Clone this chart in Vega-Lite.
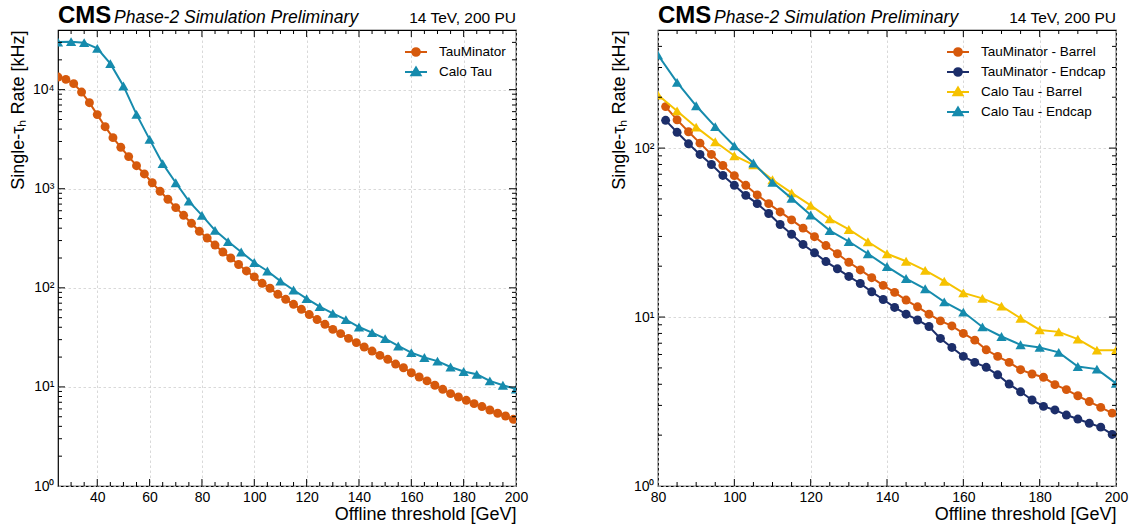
{
  "$schema": "https://vega.github.io/schema/vega-lite/v6.json",
  "background": "white",
  "padding": {"left": 8, "top": 3, "right": 0, "bottom": 0},
  "spacing": 80,
  "config": {
    "font": "Liberation Sans",
    "view": {"stroke": "black", "strokeWidth": 1.2},
    "axis": {
      "domain": false,
      "ticks": false,
      "tickSize": 0,
      "labelFlush": false,
      "labelFont": "Liberation Sans",
      "labelFontSize": 14,
      "labelColor": "black",
      "titleFont": "Liberation Sans",
      "titleFontSize": 18,
      "titleFontWeight": "normal",
      "titleColor": "black",
      "gridColor": "#cfcfcf",
      "gridDash": [2.5, 2.5],
      "gridWidth": 0.8
    },
    "tick": {"opacity": 1}
  },
  "datasets": {
    "left": [
      {"s": "TauMinator", "x": 25, "y": 13400}, {"s": "TauMinator", "x": 28, "y": 12700}, {"s": "TauMinator", "x": 31, "y": 11500}, {"s": "TauMinator", "x": 34, "y": 9460}, {"s": "TauMinator", "x": 37, "y": 7390}, {"s": "TauMinator", "x": 40, "y": 5600}, {"s": "TauMinator", "x": 43, "y": 4230}, {"s": "TauMinator", "x": 46, "y": 3280}, {"s": "TauMinator", "x": 49, "y": 2620}, {"s": "TauMinator", "x": 52, "y": 2110}, {"s": "TauMinator", "x": 55, "y": 1710}, {"s": "TauMinator", "x": 58, "y": 1410}, {"s": "TauMinator", "x": 61, "y": 1150}, {"s": "TauMinator", "x": 64, "y": 942}, {"s": "TauMinator", "x": 67, "y": 782}, {"s": "TauMinator", "x": 70, "y": 645}, {"s": "TauMinator", "x": 73, "y": 539}, {"s": "TauMinator", "x": 76, "y": 448}, {"s": "TauMinator", "x": 79, "y": 372}, {"s": "TauMinator", "x": 82, "y": 318}, {"s": "TauMinator", "x": 85, "y": 270}, {"s": "TauMinator", "x": 88, "y": 230}, {"s": "TauMinator", "x": 91, "y": 200}, {"s": "TauMinator", "x": 94, "y": 172}, {"s": "TauMinator", "x": 97, "y": 148}, {"s": "TauMinator", "x": 100, "y": 129}, {"s": "TauMinator", "x": 103, "y": 111}, {"s": "TauMinator", "x": 106, "y": 99}, {"s": "TauMinator", "x": 109, "y": 86}, {"s": "TauMinator", "x": 112, "y": 76.6}, {"s": "TauMinator", "x": 115, "y": 68.2}, {"s": "TauMinator", "x": 118, "y": 60.7}, {"s": "TauMinator", "x": 121, "y": 53.7}, {"s": "TauMinator", "x": 124, "y": 47.8}, {"s": "TauMinator", "x": 127, "y": 42.8}, {"s": "TauMinator", "x": 130, "y": 38.1}, {"s": "TauMinator", "x": 133, "y": 34.5}, {"s": "TauMinator", "x": 136, "y": 30.9}, {"s": "TauMinator", "x": 139, "y": 28}, {"s": "TauMinator", "x": 142, "y": 25.3}, {"s": "TauMinator", "x": 145, "y": 23}, {"s": "TauMinator", "x": 148, "y": 20.8}, {"s": "TauMinator", "x": 151, "y": 19}, {"s": "TauMinator", "x": 154, "y": 17}, {"s": "TauMinator", "x": 157, "y": 15.6}, {"s": "TauMinator", "x": 160, "y": 13.9}, {"s": "TauMinator", "x": 163, "y": 12.6}, {"s": "TauMinator", "x": 166, "y": 11.5}, {"s": "TauMinator", "x": 169, "y": 10.4}, {"s": "TauMinator", "x": 172, "y": 9.46}, {"s": "TauMinator", "x": 175, "y": 8.56}, {"s": "TauMinator", "x": 178, "y": 7.91}, {"s": "TauMinator", "x": 181, "y": 7.32}, {"s": "TauMinator", "x": 184, "y": 6.78}, {"s": "TauMinator", "x": 187, "y": 6.33}, {"s": "TauMinator", "x": 190, "y": 5.85}, {"s": "TauMinator", "x": 193, "y": 5.42}, {"s": "TauMinator", "x": 196, "y": 5.09}, {"s": "TauMinator", "x": 199, "y": 4.71},
      {"s": "Calo Tau", "x": 25, "y": 30200}, {"s": "Calo Tau", "x": 30, "y": 30500}, {"s": "Calo Tau", "x": 35, "y": 29800}, {"s": "Calo Tau", "x": 40, "y": 26100}, {"s": "Calo Tau", "x": 45, "y": 18300}, {"s": "Calo Tau", "x": 50, "y": 10900}, {"s": "Calo Tau", "x": 55, "y": 5630}, {"s": "Calo Tau", "x": 60, "y": 3150}, {"s": "Calo Tau", "x": 65, "y": 1790}, {"s": "Calo Tau", "x": 70, "y": 1150}, {"s": "Calo Tau", "x": 75, "y": 751}, {"s": "Calo Tau", "x": 80, "y": 539}, {"s": "Calo Tau", "x": 85, "y": 380}, {"s": "Calo Tau", "x": 90, "y": 293}, {"s": "Calo Tau", "x": 95, "y": 230}, {"s": "Calo Tau", "x": 100, "y": 180}, {"s": "Calo Tau", "x": 105, "y": 148}, {"s": "Calo Tau", "x": 110, "y": 117}, {"s": "Calo Tau", "x": 115, "y": 95}, {"s": "Calo Tau", "x": 120, "y": 77.8}, {"s": "Calo Tau", "x": 125, "y": 64.6}, {"s": "Calo Tau", "x": 130, "y": 55.3}, {"s": "Calo Tau", "x": 135, "y": 47.8}, {"s": "Calo Tau", "x": 140, "y": 40.2}, {"s": "Calo Tau", "x": 145, "y": 35.3}, {"s": "Calo Tau", "x": 150, "y": 30.7}, {"s": "Calo Tau", "x": 155, "y": 25.9}, {"s": "Calo Tau", "x": 160, "y": 22.2}, {"s": "Calo Tau", "x": 165, "y": 19.8}, {"s": "Calo Tau", "x": 170, "y": 18.2}, {"s": "Calo Tau", "x": 175, "y": 15.9}, {"s": "Calo Tau", "x": 180, "y": 14.3}, {"s": "Calo Tau", "x": 185, "y": 13.4}, {"s": "Calo Tau", "x": 190, "y": 11.5}, {"s": "Calo Tau", "x": 195, "y": 10.4}, {"s": "Calo Tau", "x": 200, "y": 9.5}
    ],
    "right": [
      {"s": "TauMinator - Barrel", "x": 82, "y": 176}, {"s": "TauMinator - Barrel", "x": 85, "y": 147}, {"s": "TauMinator - Barrel", "x": 88, "y": 125}, {"s": "TauMinator - Barrel", "x": 91, "y": 107}, {"s": "TauMinator - Barrel", "x": 94, "y": 91.7}, {"s": "TauMinator - Barrel", "x": 97, "y": 78.9}, {"s": "TauMinator - Barrel", "x": 100, "y": 68.7}, {"s": "TauMinator - Barrel", "x": 103, "y": 60.2}, {"s": "TauMinator - Barrel", "x": 106, "y": 52.8}, {"s": "TauMinator - Barrel", "x": 109, "y": 46.9}, {"s": "TauMinator - Barrel", "x": 112, "y": 41.9}, {"s": "TauMinator - Barrel", "x": 115, "y": 37.6}, {"s": "TauMinator - Barrel", "x": 118, "y": 33.6}, {"s": "TauMinator - Barrel", "x": 121, "y": 29.9}, {"s": "TauMinator - Barrel", "x": 124, "y": 26.5}, {"s": "TauMinator - Barrel", "x": 127, "y": 23.7}, {"s": "TauMinator - Barrel", "x": 130, "y": 21.1}, {"s": "TauMinator - Barrel", "x": 133, "y": 19}, {"s": "TauMinator - Barrel", "x": 136, "y": 17.1}, {"s": "TauMinator - Barrel", "x": 139, "y": 15.4}, {"s": "TauMinator - Barrel", "x": 142, "y": 14}, {"s": "TauMinator - Barrel", "x": 145, "y": 12.6}, {"s": "TauMinator - Barrel", "x": 148, "y": 11.5}, {"s": "TauMinator - Barrel", "x": 151, "y": 10.4}, {"s": "TauMinator - Barrel", "x": 154, "y": 9.49}, {"s": "TauMinator - Barrel", "x": 157, "y": 8.86}, {"s": "TauMinator - Barrel", "x": 160, "y": 8}, {"s": "TauMinator - Barrel", "x": 163, "y": 7.3}, {"s": "TauMinator - Barrel", "x": 166, "y": 6.4}, {"s": "TauMinator - Barrel", "x": 169, "y": 5.85}, {"s": "TauMinator - Barrel", "x": 172, "y": 5.39}, {"s": "TauMinator - Barrel", "x": 175, "y": 4.88}, {"s": "TauMinator - Barrel", "x": 178, "y": 4.6}, {"s": "TauMinator - Barrel", "x": 181, "y": 4.4}, {"s": "TauMinator - Barrel", "x": 184, "y": 3.98}, {"s": "TauMinator - Barrel", "x": 187, "y": 3.72}, {"s": "TauMinator - Barrel", "x": 190, "y": 3.42}, {"s": "TauMinator - Barrel", "x": 193, "y": 3.16}, {"s": "TauMinator - Barrel", "x": 196, "y": 2.92}, {"s": "TauMinator - Barrel", "x": 199, "y": 2.7},
      {"s": "TauMinator - Endcap", "x": 82, "y": 146}, {"s": "TauMinator - Endcap", "x": 85, "y": 124}, {"s": "TauMinator - Endcap", "x": 88, "y": 106}, {"s": "TauMinator - Endcap", "x": 91, "y": 91.7}, {"s": "TauMinator - Endcap", "x": 94, "y": 80}, {"s": "TauMinator - Endcap", "x": 97, "y": 68.9}, {"s": "TauMinator - Endcap", "x": 100, "y": 60.2}, {"s": "TauMinator - Endcap", "x": 103, "y": 52.5}, {"s": "TauMinator - Endcap", "x": 106, "y": 46.9}, {"s": "TauMinator - Endcap", "x": 109, "y": 41}, {"s": "TauMinator - Endcap", "x": 112, "y": 35.3}, {"s": "TauMinator - Endcap", "x": 115, "y": 30.9}, {"s": "TauMinator - Endcap", "x": 118, "y": 26.9}, {"s": "TauMinator - Endcap", "x": 121, "y": 24}, {"s": "TauMinator - Endcap", "x": 124, "y": 21.3}, {"s": "TauMinator - Endcap", "x": 127, "y": 19.3}, {"s": "TauMinator - Endcap", "x": 130, "y": 17.4}, {"s": "TauMinator - Endcap", "x": 133, "y": 15.8}, {"s": "TauMinator - Endcap", "x": 136, "y": 14.1}, {"s": "TauMinator - Endcap", "x": 139, "y": 12.7}, {"s": "TauMinator - Endcap", "x": 142, "y": 11.4}, {"s": "TauMinator - Endcap", "x": 145, "y": 10.4}, {"s": "TauMinator - Endcap", "x": 148, "y": 9.61}, {"s": "TauMinator - Endcap", "x": 151, "y": 8.79}, {"s": "TauMinator - Endcap", "x": 154, "y": 7.47}, {"s": "TauMinator - Endcap", "x": 157, "y": 6.61}, {"s": "TauMinator - Endcap", "x": 160, "y": 5.85}, {"s": "TauMinator - Endcap", "x": 163, "y": 5.39}, {"s": "TauMinator - Endcap", "x": 166, "y": 5.04}, {"s": "TauMinator - Endcap", "x": 169, "y": 4.55}, {"s": "TauMinator - Endcap", "x": 172, "y": 4.01}, {"s": "TauMinator - Endcap", "x": 175, "y": 3.61}, {"s": "TauMinator - Endcap", "x": 178, "y": 3.23}, {"s": "TauMinator - Endcap", "x": 181, "y": 2.96}, {"s": "TauMinator - Endcap", "x": 184, "y": 2.82}, {"s": "TauMinator - Endcap", "x": 187, "y": 2.63}, {"s": "TauMinator - Endcap", "x": 190, "y": 2.49}, {"s": "TauMinator - Endcap", "x": 193, "y": 2.35}, {"s": "TauMinator - Endcap", "x": 196, "y": 2.23}, {"s": "TauMinator - Endcap", "x": 199, "y": 2.02},
      {"s": "Calo Tau - Barrel", "x": 80, "y": 206}, {"s": "Calo Tau - Barrel", "x": 85, "y": 166}, {"s": "Calo Tau - Barrel", "x": 90, "y": 133}, {"s": "Calo Tau - Barrel", "x": 95, "y": 109}, {"s": "Calo Tau - Barrel", "x": 100, "y": 90.1}, {"s": "Calo Tau - Barrel", "x": 105, "y": 79.7}, {"s": "Calo Tau - Barrel", "x": 110, "y": 65}, {"s": "Calo Tau - Barrel", "x": 115, "y": 54.3}, {"s": "Calo Tau - Barrel", "x": 120, "y": 45.8}, {"s": "Calo Tau - Barrel", "x": 125, "y": 38.1}, {"s": "Calo Tau - Barrel", "x": 130, "y": 33}, {"s": "Calo Tau - Barrel", "x": 135, "y": 27.9}, {"s": "Calo Tau - Barrel", "x": 140, "y": 23.7}, {"s": "Calo Tau - Barrel", "x": 145, "y": 21.4}, {"s": "Calo Tau - Barrel", "x": 150, "y": 18.9}, {"s": "Calo Tau - Barrel", "x": 155, "y": 16.3}, {"s": "Calo Tau - Barrel", "x": 160, "y": 13.9}, {"s": "Calo Tau - Barrel", "x": 165, "y": 12.9}, {"s": "Calo Tau - Barrel", "x": 170, "y": 11.6}, {"s": "Calo Tau - Barrel", "x": 175, "y": 9.84}, {"s": "Calo Tau - Barrel", "x": 180, "y": 8.39}, {"s": "Calo Tau - Barrel", "x": 185, "y": 8.17}, {"s": "Calo Tau - Barrel", "x": 190, "y": 7.4}, {"s": "Calo Tau - Barrel", "x": 195, "y": 6.37}, {"s": "Calo Tau - Barrel", "x": 200, "y": 6.37},
      {"s": "Calo Tau - Endcap", "x": 80, "y": 355}, {"s": "Calo Tau - Endcap", "x": 85, "y": 245}, {"s": "Calo Tau - Endcap", "x": 90, "y": 178}, {"s": "Calo Tau - Endcap", "x": 95, "y": 134}, {"s": "Calo Tau - Endcap", "x": 100, "y": 103}, {"s": "Calo Tau - Endcap", "x": 105, "y": 81.6}, {"s": "Calo Tau - Endcap", "x": 110, "y": 62.7}, {"s": "Calo Tau - Endcap", "x": 115, "y": 50.4}, {"s": "Calo Tau - Endcap", "x": 120, "y": 40.2}, {"s": "Calo Tau - Endcap", "x": 125, "y": 32.5}, {"s": "Calo Tau - Endcap", "x": 130, "y": 28}, {"s": "Calo Tau - Endcap", "x": 135, "y": 23.7}, {"s": "Calo Tau - Endcap", "x": 140, "y": 19.9}, {"s": "Calo Tau - Endcap", "x": 145, "y": 16.9}, {"s": "Calo Tau - Endcap", "x": 150, "y": 14.7}, {"s": "Calo Tau - Endcap", "x": 155, "y": 12.3}, {"s": "Calo Tau - Endcap", "x": 160, "y": 10.7}, {"s": "Calo Tau - Endcap", "x": 165, "y": 8.74}, {"s": "Calo Tau - Endcap", "x": 170, "y": 7.67}, {"s": "Calo Tau - Endcap", "x": 175, "y": 6.85}, {"s": "Calo Tau - Endcap", "x": 180, "y": 6.61}, {"s": "Calo Tau - Endcap", "x": 185, "y": 6.18}, {"s": "Calo Tau - Endcap", "x": 190, "y": 5.1}, {"s": "Calo Tau - Endcap", "x": 195, "y": 4.92}, {"s": "Calo Tau - Endcap", "x": 200, "y": 4.05}
    ],
    "ticksLx": [
      {"v": 30, "k": "minor"}, {"v": 35, "k": "minor"}, {"v": 40, "k": "major"}, {"v": 45, "k": "minor"}, {"v": 50, "k": "minor"}, {"v": 55, "k": "minor"}, {"v": 60, "k": "major"}, {"v": 65, "k": "minor"}, {"v": 70, "k": "minor"}, {"v": 75, "k": "minor"}, {"v": 80, "k": "major"}, {"v": 85, "k": "minor"}, {"v": 90, "k": "minor"}, {"v": 95, "k": "minor"}, {"v": 100, "k": "major"}, {"v": 105, "k": "minor"}, {"v": 110, "k": "minor"}, {"v": 115, "k": "minor"}, {"v": 120, "k": "major"}, {"v": 125, "k": "minor"}, {"v": 130, "k": "minor"}, {"v": 135, "k": "minor"}, {"v": 140, "k": "major"}, {"v": 145, "k": "minor"}, {"v": 150, "k": "minor"}, {"v": 155, "k": "minor"}, {"v": 160, "k": "major"}, {"v": 165, "k": "minor"}, {"v": 170, "k": "minor"}, {"v": 175, "k": "minor"}, {"v": 180, "k": "major"}, {"v": 185, "k": "minor"}, {"v": 190, "k": "minor"}, {"v": 195, "k": "minor"}
    ],
    "ticksLy": [
      {"v": 2, "k": "minor"}, {"v": 3, "k": "minor"}, {"v": 4, "k": "minor"}, {"v": 5, "k": "minor"}, {"v": 6, "k": "minor"}, {"v": 7, "k": "minor"}, {"v": 8, "k": "minor"}, {"v": 9, "k": "minor"}, {"v": 10, "k": "major"},
      {"v": 20, "k": "minor"}, {"v": 30, "k": "minor"}, {"v": 40, "k": "minor"}, {"v": 50, "k": "minor"}, {"v": 60, "k": "minor"}, {"v": 70, "k": "minor"}, {"v": 80, "k": "minor"}, {"v": 90, "k": "minor"}, {"v": 100, "k": "major"},
      {"v": 200, "k": "minor"}, {"v": 300, "k": "minor"}, {"v": 400, "k": "minor"}, {"v": 500, "k": "minor"}, {"v": 600, "k": "minor"}, {"v": 700, "k": "minor"}, {"v": 800, "k": "minor"}, {"v": 900, "k": "minor"}, {"v": 1000, "k": "major"},
      {"v": 2000, "k": "minor"}, {"v": 3000, "k": "minor"}, {"v": 4000, "k": "minor"}, {"v": 5000, "k": "minor"}, {"v": 6000, "k": "minor"}, {"v": 7000, "k": "minor"}, {"v": 8000, "k": "minor"}, {"v": 9000, "k": "minor"}, {"v": 10000, "k": "major"},
      {"v": 20000, "k": "minor"}, {"v": 30000, "k": "minor"}
    ],
    "ticksRx": [
      {"v": 85, "k": "minor"}, {"v": 90, "k": "minor"}, {"v": 95, "k": "minor"}, {"v": 100, "k": "major"}, {"v": 105, "k": "minor"}, {"v": 110, "k": "minor"}, {"v": 115, "k": "minor"}, {"v": 120, "k": "major"}, {"v": 125, "k": "minor"}, {"v": 130, "k": "minor"}, {"v": 135, "k": "minor"}, {"v": 140, "k": "major"}, {"v": 145, "k": "minor"}, {"v": 150, "k": "minor"}, {"v": 155, "k": "minor"}, {"v": 160, "k": "major"}, {"v": 165, "k": "minor"}, {"v": 170, "k": "minor"}, {"v": 175, "k": "minor"}, {"v": 180, "k": "major"}, {"v": 185, "k": "minor"}, {"v": 190, "k": "minor"}, {"v": 195, "k": "minor"}
    ],
    "ticksRy": [
      {"v": 2, "k": "minor"}, {"v": 3, "k": "minor"}, {"v": 4, "k": "minor"}, {"v": 5, "k": "minor"}, {"v": 6, "k": "minor"}, {"v": 7, "k": "minor"}, {"v": 8, "k": "minor"}, {"v": 9, "k": "minor"}, {"v": 10, "k": "major"},
      {"v": 20, "k": "minor"}, {"v": 30, "k": "minor"}, {"v": 40, "k": "minor"}, {"v": 50, "k": "minor"}, {"v": 60, "k": "minor"}, {"v": 70, "k": "minor"}, {"v": 80, "k": "minor"}, {"v": 90, "k": "minor"}, {"v": 100, "k": "major"},
      {"v": 200, "k": "minor"}, {"v": 300, "k": "minor"}, {"v": 400, "k": "minor"}
    ]
  },
  "hconcat": [
    {
      "width": 458,
      "height": 456,
      "layer": [
        {
          "data": {"name": "left"},
          "transform": [{"filter": "datum.s == 'TauMinator'"}],
          "mark": {"type": "line", "strokeWidth": 2, "clip": true, "color": "#d6590c"},
          "encoding": {
            "x": {"field": "x", "type": "quantitative", "scale": {"domain": [25, 200], "nice": false, "zero": false},
              "axis": {"orient": "bottom", "values": [40, 60, 80, 100, 120, 140, 160, 180, 200], "grid": true, "labelPadding": 4, "title": "Offline threshold [GeV]", "titleAnchor": "end", "titlePadding": 1}},
            "y": {"field": "y", "type": "quantitative", "scale": {"type": "log", "domain": [1, 40000], "nice": false},
              "axis": {"orient": "left", "values": [1, 10, 100, 1000, 10000], "grid": true, "labelPadding": 4,
                "labelExpr": "datum.value == 1 ? '10⁰' : datum.value == 10 ? '10¹' : datum.value == 100 ? '10²' : datum.value == 1000 ? '10³' : '10⁴'",
                "title": "Single-τₕ Rate [kHz]", "titleAnchor": "end", "titlePadding": 5}}
          }
        },
        {
          "data": {"name": "left"},
          "transform": [{"filter": "datum.s == 'TauMinator'"}],
          "mark": {"type": "point", "shape": "circle", "size": 80, "filled": true, "opacity": 1, "clip": true, "color": "#d6590c"},
          "encoding": {
            "x": {"field": "x", "type": "quantitative", "axis": null},
            "y": {"field": "y", "type": "quantitative", "axis": null}
          }
        },
        {
          "data": {"name": "left"},
          "transform": [{"filter": "datum.s == 'Calo Tau'"}],
          "mark": {"type": "line", "strokeWidth": 2, "clip": true, "color": "#168bad"},
          "encoding": {
            "x": {"field": "x", "type": "quantitative", "axis": null},
            "y": {"field": "y", "type": "quantitative", "axis": null}
          }
        },
        {
          "data": {"name": "left"},
          "transform": [{"filter": "datum.s == 'Calo Tau'"}],
          "mark": {"type": "point", "shape": "triangle-up", "size": 105, "filled": true, "opacity": 1, "clip": true, "color": "#168bad"},
          "encoding": {
            "x": {"field": "x", "type": "quantitative", "axis": null},
            "y": {"field": "y", "type": "quantitative", "axis": null}
          }
        },
        {
          "data": {"name": "left"},
          "mark": {"type": "point", "filled": true, "opacity": 0, "strokeWidth": 2, "clip": true},
          "encoding": {
            "x": {"field": "x", "type": "quantitative", "axis": null},
            "y": {"field": "y", "type": "quantitative", "axis": null},
            "fill": {"field": "s", "type": "nominal", "scale": {"domain": ["TauMinator", "Calo Tau"], "range": ["#d6590c", "#168bad"]},
              "legend": {"title": null, "orient": "top-right", "offset": 10, "padding": 0, "labelFont": "Liberation Sans", "labelFontSize": 13.5, "labelColor": "black", "symbolSize": 484, "symbolStrokeWidth": 2, "symbolOpacity": 1, "rowPadding": -2, "labelOffset": 11}},
            "stroke": {"field": "s", "type": "nominal", "scale": {"domain": ["TauMinator", "Calo Tau"], "range": ["#d6590c", "#168bad"]},
              "legend": {"title": null, "orient": "top-right", "offset": 10, "padding": 0, "labelFont": "Liberation Sans", "labelFontSize": 13.5, "labelColor": "black", "symbolSize": 484, "symbolStrokeWidth": 2, "symbolOpacity": 1, "rowPadding": -2, "labelOffset": 11}},
            "shape": {"field": "s", "type": "nominal", "scale": {"domain": ["TauMinator", "Calo Tau"], "range": ["M-1,0H1M0.35,0A0.35,0.35,0,1,1,-0.35,0A0.35,0.35,0,1,1,0.35,0Z", "M-1,0H1M0,-0.42L0.42,0.3L-0.42,0.3Z"]},
              "legend": {"title": null, "orient": "top-right", "offset": 10, "padding": 0, "labelFont": "Liberation Sans", "labelFontSize": 13.5, "labelColor": "black", "symbolSize": 484, "symbolStrokeWidth": 2, "symbolOpacity": 1, "rowPadding": -2, "labelOffset": 11}}
          }
        },
        {
          "data": {"name": "ticksLx"},
          "mark": {"type": "tick", "orient": "vertical", "thickness": 1, "color": "black", "opacity": 1, "clip": true},
          "encoding": {
            "x": {"field": "v", "type": "quantitative", "axis": null},
            "y": {"datum": 1, "type": "quantitative", "axis": null},
            "size": {"field": "k", "type": "nominal", "scale": {"domain": ["major", "minor"], "range": [14, 8]}, "legend": null}
          }
        },
        {
          "data": {"name": "ticksLx"},
          "mark": {"type": "tick", "orient": "vertical", "thickness": 1, "color": "black", "opacity": 1, "clip": true},
          "encoding": {
            "x": {"field": "v", "type": "quantitative", "axis": null},
            "y": {"datum": 40000, "type": "quantitative", "axis": null},
            "size": {"field": "k", "type": "nominal", "legend": null}
          }
        },
        {
          "data": {"name": "ticksLy"},
          "mark": {"type": "tick", "orient": "horizontal", "thickness": 1, "color": "black", "opacity": 1, "clip": true},
          "encoding": {
            "y": {"field": "v", "type": "quantitative", "axis": null},
            "x": {"datum": 25, "type": "quantitative", "axis": null},
            "size": {"field": "k", "type": "nominal", "legend": null}
          }
        },
        {
          "data": {"name": "ticksLy"},
          "mark": {"type": "tick", "orient": "horizontal", "thickness": 1, "color": "black", "opacity": 1, "clip": true},
          "encoding": {
            "y": {"field": "v", "type": "quantitative", "axis": null},
            "x": {"datum": 200, "type": "quantitative", "axis": null},
            "size": {"field": "k", "type": "nominal", "legend": null}
          }
        },
        {
          "data": {"values": [{}]},
          "mark": {"type": "text", "text": "CMS", "align": "left", "baseline": "alphabetic", "dy": -7, "fontSize": 24, "fontWeight": "bold", "font": "Liberation Sans", "color": "black"},
          "encoding": {
            "x": {"datum": 25, "type": "quantitative", "axis": null},
            "y": {"datum": 40000, "type": "quantitative", "axis": null}
          }
        },
        {
          "data": {"values": [{}]},
          "mark": {"type": "text", "text": "Phase-2 Simulation Preliminary", "align": "left", "baseline": "alphabetic", "dx": 56, "dy": -7, "fontSize": 17.5, "fontStyle": "italic", "font": "Liberation Sans", "color": "black"},
          "encoding": {
            "x": {"datum": 25, "type": "quantitative", "axis": null},
            "y": {"datum": 40000, "type": "quantitative", "axis": null}
          }
        },
        {
          "data": {"values": [{}]},
          "mark": {"type": "text", "text": "14 TeV, 200 PU", "align": "right", "baseline": "alphabetic", "dy": -7, "fontSize": 15.5, "font": "Liberation Sans", "color": "black"},
          "encoding": {
            "x": {"datum": 200, "type": "quantitative", "axis": null},
            "y": {"datum": 40000, "type": "quantitative", "axis": null}
          }
        }
      ],
      "resolve": {"axis": {"x": "independent", "y": "independent"}}
    },
    {
      "width": 458,
      "height": 456,
      "layer": [
        {
          "data": {"name": "right"},
          "transform": [{"filter": "datum.s == 'TauMinator - Barrel'"}],
          "mark": {"type": "line", "strokeWidth": 2, "clip": true, "color": "#d6590c"},
          "encoding": {
            "x": {"field": "x", "type": "quantitative", "scale": {"domain": [80, 200], "nice": false, "zero": false},
              "axis": {"orient": "bottom", "values": [80, 100, 120, 140, 160, 180, 200], "grid": true, "labelPadding": 4, "title": "Offline threshold [GeV]", "titleAnchor": "end", "titlePadding": 1}},
            "y": {"field": "y", "type": "quantitative", "scale": {"type": "log", "domain": [1, 500], "nice": false},
              "axis": {"orient": "left", "values": [1, 10, 100], "grid": true, "labelPadding": 4,
                "labelExpr": "datum.value == 1 ? '10⁰' : datum.value == 10 ? '10¹' : '10²'",
                "title": "Single-τₕ Rate [kHz]", "titleAnchor": "end", "titlePadding": 5}}
          }
        },
        {
          "data": {"name": "right"},
          "transform": [{"filter": "datum.s == 'TauMinator - Barrel'"}],
          "mark": {"type": "point", "shape": "circle", "size": 80, "filled": true, "opacity": 1, "clip": true, "color": "#d6590c"},
          "encoding": {
            "x": {"field": "x", "type": "quantitative", "axis": null},
            "y": {"field": "y", "type": "quantitative", "axis": null}
          }
        },
        {
          "data": {"name": "right"},
          "transform": [{"filter": "datum.s == 'TauMinator - Endcap'"}],
          "mark": {"type": "line", "strokeWidth": 2, "clip": true, "color": "#1c2e6a"},
          "encoding": {
            "x": {"field": "x", "type": "quantitative", "axis": null},
            "y": {"field": "y", "type": "quantitative", "axis": null}
          }
        },
        {
          "data": {"name": "right"},
          "transform": [{"filter": "datum.s == 'TauMinator - Endcap'"}],
          "mark": {"type": "point", "shape": "circle", "size": 80, "filled": true, "opacity": 1, "clip": true, "color": "#1c2e6a"},
          "encoding": {
            "x": {"field": "x", "type": "quantitative", "axis": null},
            "y": {"field": "y", "type": "quantitative", "axis": null}
          }
        },
        {
          "data": {"name": "right"},
          "transform": [{"filter": "datum.s == 'Calo Tau - Barrel'"}],
          "mark": {"type": "line", "strokeWidth": 2, "clip": true, "color": "#f6c200"},
          "encoding": {
            "x": {"field": "x", "type": "quantitative", "axis": null},
            "y": {"field": "y", "type": "quantitative", "axis": null}
          }
        },
        {
          "data": {"name": "right"},
          "transform": [{"filter": "datum.s == 'Calo Tau - Barrel'"}],
          "mark": {"type": "point", "shape": "triangle-up", "size": 105, "filled": true, "opacity": 1, "clip": true, "color": "#f6c200"},
          "encoding": {
            "x": {"field": "x", "type": "quantitative", "axis": null},
            "y": {"field": "y", "type": "quantitative", "axis": null}
          }
        },
        {
          "data": {"name": "right"},
          "transform": [{"filter": "datum.s == 'Calo Tau - Endcap'"}],
          "mark": {"type": "line", "strokeWidth": 2, "clip": true, "color": "#168bad"},
          "encoding": {
            "x": {"field": "x", "type": "quantitative", "axis": null},
            "y": {"field": "y", "type": "quantitative", "axis": null}
          }
        },
        {
          "data": {"name": "right"},
          "transform": [{"filter": "datum.s == 'Calo Tau - Endcap'"}],
          "mark": {"type": "point", "shape": "triangle-up", "size": 105, "filled": true, "opacity": 1, "clip": true, "color": "#168bad"},
          "encoding": {
            "x": {"field": "x", "type": "quantitative", "axis": null},
            "y": {"field": "y", "type": "quantitative", "axis": null}
          }
        },
        {
          "data": {"name": "right"},
          "mark": {"type": "point", "filled": true, "opacity": 0, "strokeWidth": 2, "clip": true},
          "encoding": {
            "x": {"field": "x", "type": "quantitative", "axis": null},
            "y": {"field": "y", "type": "quantitative", "axis": null},
            "fill": {"field": "s", "type": "nominal", "scale": {"domain": ["TauMinator - Barrel", "TauMinator - Endcap", "Calo Tau - Barrel", "Calo Tau - Endcap"], "range": ["#d6590c", "#1c2e6a", "#f6c200", "#168bad"]},
              "legend": {"title": null, "orient": "top-right", "offset": 10, "padding": 0, "labelFont": "Liberation Sans", "labelFontSize": 13.5, "labelColor": "black", "symbolSize": 484, "symbolStrokeWidth": 2, "symbolOpacity": 1, "rowPadding": -2, "labelOffset": 11}},
            "stroke": {"field": "s", "type": "nominal", "scale": {"domain": ["TauMinator - Barrel", "TauMinator - Endcap", "Calo Tau - Barrel", "Calo Tau - Endcap"], "range": ["#d6590c", "#1c2e6a", "#f6c200", "#168bad"]},
              "legend": {"title": null, "orient": "top-right", "offset": 10, "padding": 0, "labelFont": "Liberation Sans", "labelFontSize": 13.5, "labelColor": "black", "symbolSize": 484, "symbolStrokeWidth": 2, "symbolOpacity": 1, "rowPadding": -2, "labelOffset": 11}},
            "shape": {"field": "s", "type": "nominal", "scale": {"domain": ["TauMinator - Barrel", "TauMinator - Endcap", "Calo Tau - Barrel", "Calo Tau - Endcap"], "range": ["M-1,0H1M0.35,0A0.35,0.35,0,1,1,-0.35,0A0.35,0.35,0,1,1,0.35,0Z", "M-1,0H1M0.35,0A0.35,0.35,0,1,1,-0.35,0A0.35,0.35,0,1,1,0.35,0Z", "M-1,0H1M0,-0.42L0.42,0.3L-0.42,0.3Z", "M-1,0H1M0,-0.42L0.42,0.3L-0.42,0.3Z"]},
              "legend": {"title": null, "orient": "top-right", "offset": 10, "padding": 0, "labelFont": "Liberation Sans", "labelFontSize": 13.5, "labelColor": "black", "symbolSize": 484, "symbolStrokeWidth": 2, "symbolOpacity": 1, "rowPadding": -2, "labelOffset": 11}}
          }
        },
        {
          "data": {"name": "ticksRx"},
          "mark": {"type": "tick", "orient": "vertical", "thickness": 1, "color": "black", "opacity": 1, "clip": true},
          "encoding": {
            "x": {"field": "v", "type": "quantitative", "axis": null},
            "y": {"datum": 1, "type": "quantitative", "axis": null},
            "size": {"field": "k", "type": "nominal", "scale": {"domain": ["major", "minor"], "range": [14, 8]}, "legend": null}
          }
        },
        {
          "data": {"name": "ticksRx"},
          "mark": {"type": "tick", "orient": "vertical", "thickness": 1, "color": "black", "opacity": 1, "clip": true},
          "encoding": {
            "x": {"field": "v", "type": "quantitative", "axis": null},
            "y": {"datum": 500, "type": "quantitative", "axis": null},
            "size": {"field": "k", "type": "nominal", "legend": null}
          }
        },
        {
          "data": {"name": "ticksRy"},
          "mark": {"type": "tick", "orient": "horizontal", "thickness": 1, "color": "black", "opacity": 1, "clip": true},
          "encoding": {
            "y": {"field": "v", "type": "quantitative", "axis": null},
            "x": {"datum": 80, "type": "quantitative", "axis": null},
            "size": {"field": "k", "type": "nominal", "legend": null}
          }
        },
        {
          "data": {"name": "ticksRy"},
          "mark": {"type": "tick", "orient": "horizontal", "thickness": 1, "color": "black", "opacity": 1, "clip": true},
          "encoding": {
            "y": {"field": "v", "type": "quantitative", "axis": null},
            "x": {"datum": 200, "type": "quantitative", "axis": null},
            "size": {"field": "k", "type": "nominal", "legend": null}
          }
        },
        {
          "data": {"values": [{}]},
          "mark": {"type": "text", "text": "CMS", "align": "left", "baseline": "alphabetic", "dy": -7, "fontSize": 24, "fontWeight": "bold", "font": "Liberation Sans", "color": "black"},
          "encoding": {
            "x": {"datum": 80, "type": "quantitative", "axis": null},
            "y": {"datum": 500, "type": "quantitative", "axis": null}
          }
        },
        {
          "data": {"values": [{}]},
          "mark": {"type": "text", "text": "Phase-2 Simulation Preliminary", "align": "left", "baseline": "alphabetic", "dx": 56, "dy": -7, "fontSize": 17.5, "fontStyle": "italic", "font": "Liberation Sans", "color": "black"},
          "encoding": {
            "x": {"datum": 80, "type": "quantitative", "axis": null},
            "y": {"datum": 500, "type": "quantitative", "axis": null}
          }
        },
        {
          "data": {"values": [{}]},
          "mark": {"type": "text", "text": "14 TeV, 200 PU", "align": "right", "baseline": "alphabetic", "dy": -7, "fontSize": 15.5, "font": "Liberation Sans", "color": "black"},
          "encoding": {
            "x": {"datum": 200, "type": "quantitative", "axis": null},
            "y": {"datum": 500, "type": "quantitative", "axis": null}
          }
        }
      ],
      "resolve": {"axis": {"x": "independent", "y": "independent"}}
    }
  ],
  "resolve": {"scale": {"x": "independent", "y": "independent", "shape": "independent", "size": "independent", "fill": "independent", "stroke": "independent"}}
}
